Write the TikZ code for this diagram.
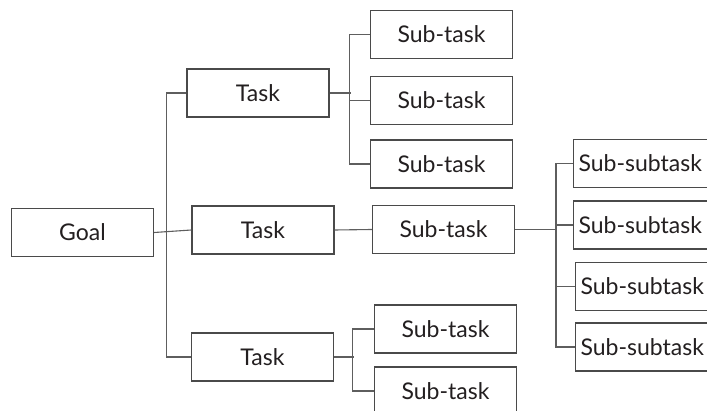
\documentclass[tikz,border=0pt]{standalone}
\usepackage{fontspec}
\setmainfont{Lato}
\usepackage{tikz}
\usetikzlibrary{positioning}
\definecolor{BoxLine}{HTML}{4A4A4A}
\definecolor{LinkLine}{HTML}{5E5E5E}
\definecolor{InkText}{HTML}{231F20}
\tikzset{
  box/.style={draw=BoxLine, line width=1.2pt, fill=white, text=InkText,
    minimum width=142pt, minimum height=48pt, inner sep=0pt,
    font=\fontsize{23}{27}\selectfont},
  wide/.style={box, anchor=west, text width=140pt, align=left, inner xsep=5pt},
  link/.style={draw=LinkLine, line width=1.1pt}
}
\begin{document}
\begin{tikzpicture}[x=1pt,y=-1pt]
    \useasboundingbox (0,0) rectangle (707,411);

    % goal and tasks
    \node[box] (goal) at (82.5,232.5) {Goal};
    \node[box] (task1) at (258,93) {Task};
    \node[box] (task2) at (263,230) {Task};
    \node[box] (task3) at (262.5,357) {Task};

    % sub-tasks
    \node[box] (st1) at (441.5,34.5) {Sub-task};
    \node[box] (st2) at (441.5,100.5) {Sub-task};
    \node[box] (st3) at (441.5,164) {Sub-task};
    \node[box] (stm) at (443.5,229.5) {Sub-task};
    \node[box] (stb1) at (445.5,329) {Sub-task};
    \node[box] (stb2) at (445.5,391) {Sub-task};

    % sub-subtasks
    \node[wide] (ss1) at (573,163.5) {Sub-subtask};
    \node[wide] (ss2) at (573,225) {Sub-subtask};
    \node[wide] (ss3) at (575,286.5) {Sub-subtask};
    \node[wide] (ss4) at (575,347) {Sub-subtask};

    % goal to tasks
    \draw[link] (goal.east) -- (task2.west);
    \draw[link] (task1.west) -- ++(-20,0) |- (task3.west);

    % tasks to sub-tasks
    \draw[link] (task1.east) -- ++(21,0);
    \draw[link] (st1.west) -- ++(-20,0) |- (st3.west);
    \draw[link] (st2.west) -- ++(-20,0);
    \draw[link] (task2.east) -- (stm.west);
    \draw[link] (task3.east) -- ++(20,0);
    \draw[link] (stb1.west) -- ++(-21,0) |- (stb2.west);

    % sub-task to sub-subtasks
    \draw[link] (stm.east) -- ++(42,0);
    \draw[link] (ss1.west) -- ++(-17,0) |- (ss4.west);
    \draw[link] (ss2.west) -- ++(-17,0);
    \draw[link] (ss3.west) -- ++(-19,0);
\end{tikzpicture}
\end{document}
